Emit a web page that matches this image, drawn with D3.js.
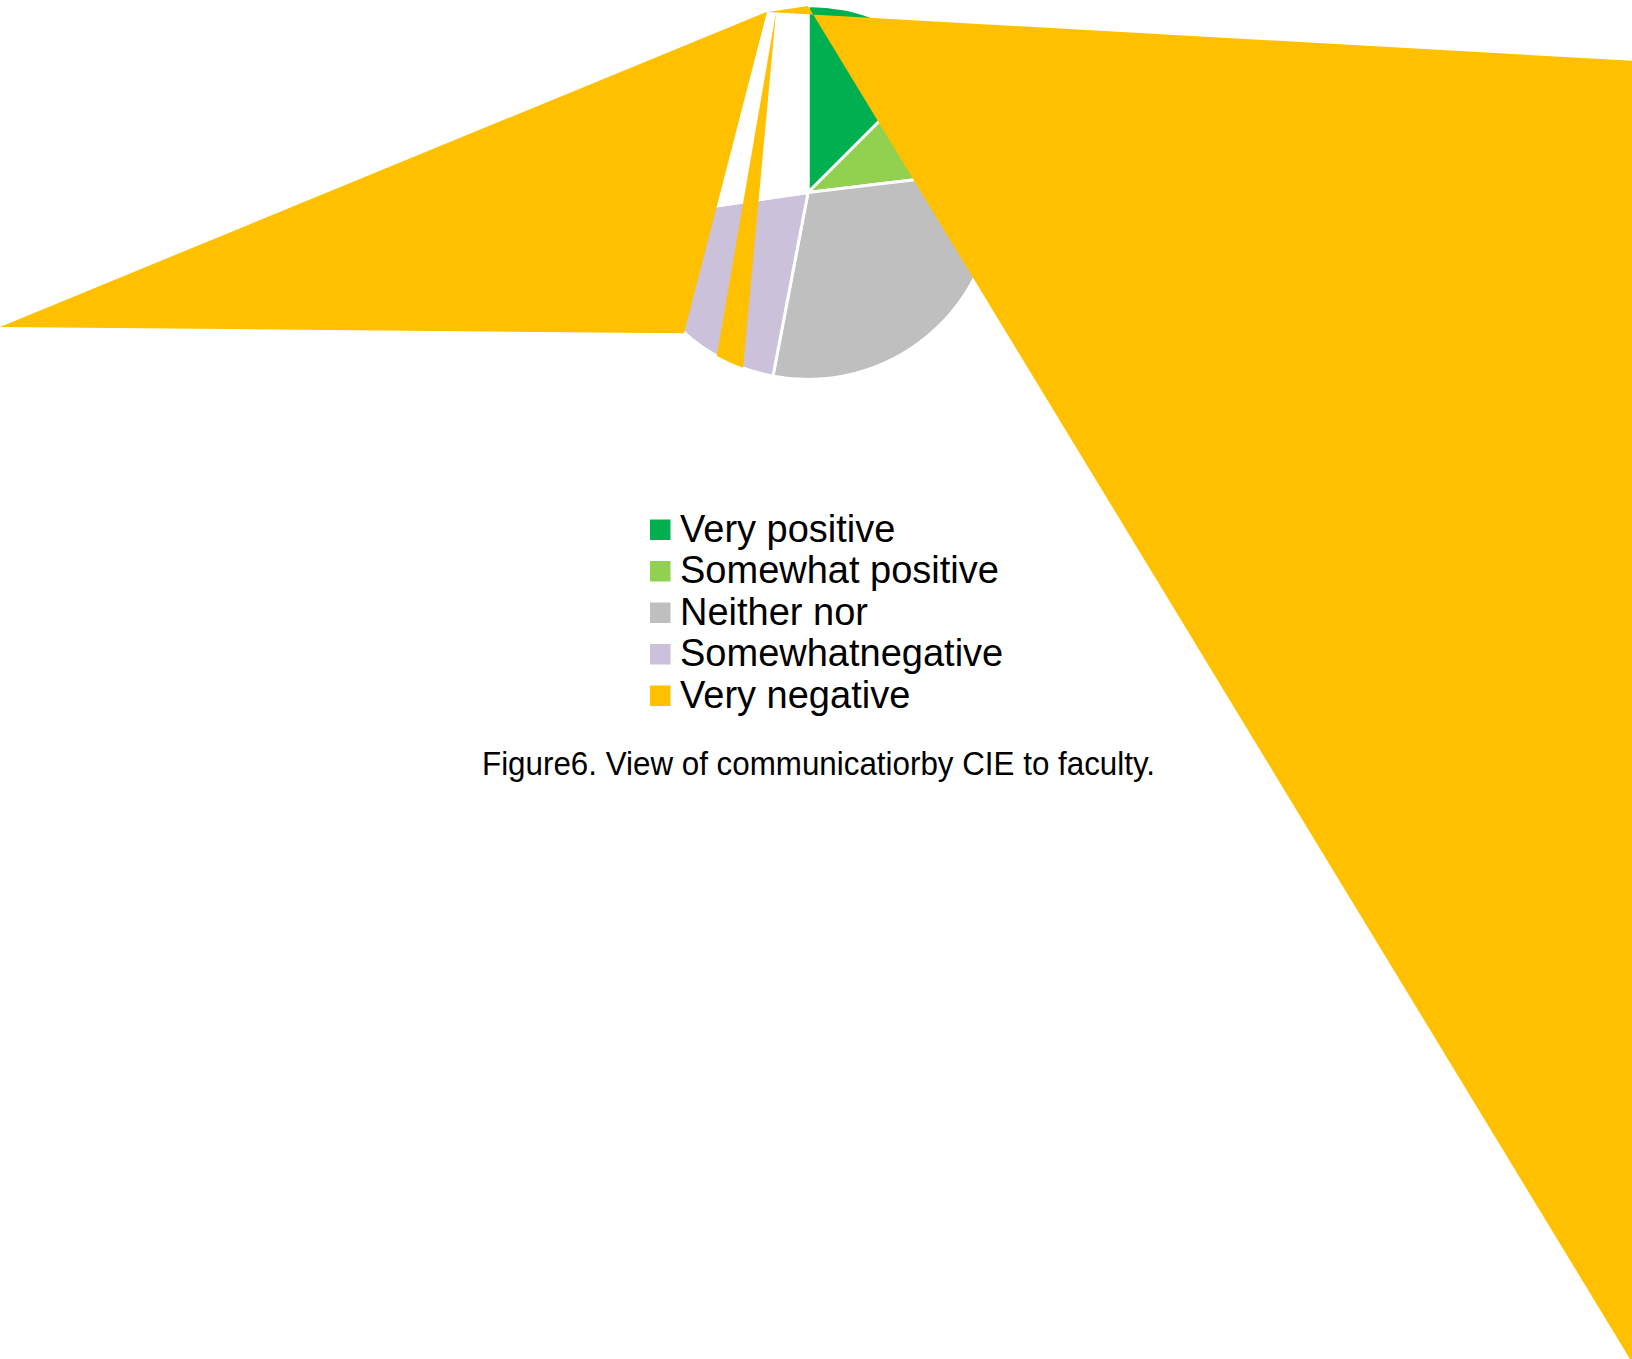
<!DOCTYPE html>
<html>
<head>
<meta charset="utf-8">
<script src="https://cdn.jsdelivr.net/npm/d3@7"></script>
<style>
  html, body { margin: 0; padding: 0; background: #fff; }
  svg { display: block; }
</style>
</head>
<body>
<div id="pie_chart"></div>
<script>
// Data
const categories = ["Very positive", "Somewhat positive", "Neither nor", "Somewhat negative", "Very negative"];
const legendLabels = ["Very positive", "Somewhat positive", "Neither nor", "Somewhatnegative", "Very negative"];
const shares = [12.5, 10.6, 29.9, 19.7, 27.3];
const colors = ["#00B050", "#92D050", "#BFBFBF", "#CCC1DA", "#FFC000"];
const caption = "Figure6. View of communicatiorby CIE to faculty.";

// The "Very negative" slice came out of the export as broken polygons.
// Vertices are in pie-radius units relative to the pie centre.
const brokenLeft = [[-4.321, 0.719], [-0.219, -0.967], [-0.663, 0.753]];
const brokenRight = [[-0.214, -0.965], [0, -0.997], [4.529, 6.457], [4.770, -0.684]];
const brokenStrip = [[-0.171, -0.965], [-0.510, 1.003], [-0.358, 1.056]];

// Dimensions
const width = 1632;
const height = 1359;
const cx = 808;
const cy = 192.5;
const radius = 187;

const svg = d3
  .select("#pie_chart")
  .append("svg")
  .attr("width", width)
  .attr("height", height);

svg.append("rect").attr("width", width).attr("height", height).attr("fill", "#fff");

// Scales from radius units to pixels
const xScale = d3.scaleLinear().domain([-1, 1]).range([cx - radius, cx + radius]);
const yScale = d3.scaleLinear().domain([-1, 1]).range([cy - radius, cy + radius]);

const color = d3.scaleOrdinal().domain(categories).range(colors);

// Pie slices
const pie = d3.pie().sort(null).value((d) => d.value);
const arc = d3.arc().innerRadius(0).outerRadius(radius);
const pieData = pie(categories.map((c, i) => ({ name: c, value: shares[i] })));

const g = svg.append("g").attr("transform", `translate(${xScale(0)},${yScale(0)})`);

g.selectAll("path")
  .data(pieData)
  .join("path")
  .attr("d", arc)
  .attr("fill", (d) => (d.data.name === "Very negative" ? "none" : color(d.data.name)))
  .attr("stroke", "#fff")
  .attr("stroke-width", 3)
  .attr("stroke-linejoin", "round");

// Clip for the strip that stays inside the pie
svg.append("clipPath")
  .attr("id", "pie-clip")
  .append("circle")
  .attr("cx", xScale(0))
  .attr("cy", yScale(0))
  .attr("r", radius);

const poly = d3
  .line()
  .x((d) => xScale(d[0]))
  .y((d) => yScale(d[1]))
  .curve(d3.curveLinearClosed);

const broken = svg.append("g").attr("fill", color("Very negative"));
broken.append("path").attr("d", poly(brokenLeft));
broken.append("path").attr("d", poly(brokenRight));
broken.append("path").attr("d", poly(brokenStrip)).attr("clip-path", "url(#pie-clip)");

// Legend
const legend = svg.append("g").attr("transform", "translate(650,519.5)");
const rowStep = 41.5;

const rows = legend
  .selectAll("g")
  .data(legendLabels)
  .join("g")
  .attr("transform", (d, i) => `translate(0,${i * rowStep})`);

rows.append("rect")
  .attr("width", 20.5)
  .attr("height", 20.5)
  .attr("fill", (d, i) => colors[i]);

rows.append("text")
  .attr("x", 30)
  .attr("y", 22)
  .attr("fill", "#000")
  .style("font-family", "'Liberation Sans', Arial, sans-serif")
  .style("font-size", "38px")
  .text((d) => d);

// Caption
svg.append("text")
  .attr("x", 482)
  .attr("y", 774.5)
  .attr("fill", "#000")
  .attr("textLength", 673)
  .attr("lengthAdjust", "spacingAndGlyphs")
  .style("font-family", "'Liberation Sans', Arial, sans-serif")
  .style("font-size", "33px")
  .text(caption);
</script>
</body>
</html>
